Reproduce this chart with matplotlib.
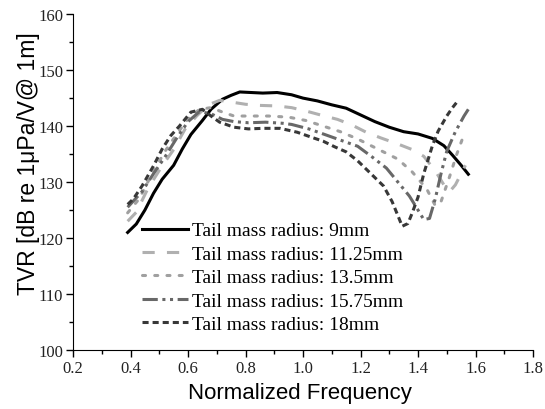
import matplotlib
matplotlib.use('Agg')
import matplotlib.pyplot as plt
from matplotlib.ticker import MultipleLocator

## curvas TVR para cada raio da massa de cauda
f_9 = [0.39, 0.42, 0.45, 0.48, 0.51, 0.55, 0.58, 0.61, 0.65, 0.68, 0.72, 0.75, 0.78, 0.82,
       0.86, 0.91, 0.96, 1.00, 1.05, 1.10, 1.15, 1.20, 1.25, 1.30, 1.35, 1.40, 1.45, 1.49,
       1.52, 1.55, 1.575]
v_9 = [121.0, 122.5, 125.0, 128.0, 130.5, 133.0, 135.9, 138.5, 141.0, 143.0, 144.8, 145.5,
       146.1, 146.0, 145.9, 146.0, 145.6, 145.0, 144.5, 143.8, 143.2, 142.0, 140.8, 139.8,
       139.0, 138.6, 137.8, 136.5, 134.8, 133.0, 131.4]

f_1125 = [0.39, 0.42, 0.46, 0.51, 0.55, 0.59, 0.63, 0.67, 0.71, 0.75, 0.80, 0.85, 0.91, 0.96,
          1.01, 1.06, 1.12, 1.17, 1.22, 1.27, 1.33, 1.38, 1.42, 1.46, 1.49, 1.51, 1.53, 1.55,
          1.565]
v_1125 = [123.0, 124.6, 128.8, 132.9, 135.8, 139.5, 141.8, 143.8, 144.6, 144.3, 143.9, 143.7,
          143.6, 143.3, 142.7, 142.0, 141.2, 140.2, 138.9, 137.9, 136.8, 135.8, 134.6, 132.0,
          129.5, 128.3, 129.5, 131.5, 133.0]

f_135 = [0.39, 0.43, 0.47, 0.52, 0.56, 0.60, 0.64, 0.68, 0.72, 0.76, 0.82, 0.88, 0.95, 1.01,
         1.07, 1.13, 1.19, 1.26, 1.33, 1.38, 1.43, 1.46, 1.48, 1.51, 1.535, 1.555]
v_135 = [124.5, 127.0, 131.0, 135.5, 138.5, 141.3, 143.0, 143.3, 142.5, 141.8, 141.8, 141.8,
         141.6, 141.0, 140.0, 139.0, 137.7, 135.9, 134.1, 131.8, 128.8, 125.8, 126.5, 131.0,
         135.0, 137.8]

f_1575 = [0.39, 0.44, 0.48, 0.52, 0.56, 0.60, 0.64, 0.68, 0.72, 0.76, 0.81, 0.87, 0.93, 0.96,
          1.02, 1.07, 1.13, 1.19, 1.24, 1.29, 1.33, 1.37, 1.40, 1.42, 1.44, 1.46, 1.48, 1.50,
          1.53, 1.56, 1.575]
v_1575 = [125.5, 128.3, 131.5, 134.5, 137.8, 140.8, 142.6, 142.2, 141.2, 140.8, 140.6, 140.7,
          140.5, 140.3, 139.5, 138.6, 137.5, 136.4, 134.5, 132.5, 130.0, 127.5, 125.0, 123.3,
          123.5, 127.0, 131.5, 135.5, 139.0, 141.8, 143.0]

f_18 = [0.39, 0.41, 0.44, 0.48, 0.51, 0.54, 0.57, 0.61, 0.65, 0.68, 0.71, 0.76, 0.81, 0.86,
        0.92, 0.98, 1.03, 1.07, 1.11, 1.15, 1.19, 1.22, 1.25, 1.28, 1.31, 1.33, 1.345, 1.365,
        1.38, 1.40, 1.42, 1.45, 1.47, 1.50, 1.52, 1.54]
v_18 = [126.0, 127.0, 129.3, 132.9, 135.9, 138.3, 140.0, 142.5, 143.0, 141.8, 140.7, 139.8,
        139.5, 139.6, 139.6, 138.9, 138.0, 137.3, 136.3, 135.4, 133.8, 132.3, 130.8, 129.3,
        126.5, 124.0, 122.1, 122.6, 124.5, 127.3, 131.5, 136.5, 139.1, 141.8, 143.3, 144.6]

rotulos = ['Tail mass radius: 9mm', 'Tail mass radius: 11.25mm', 'Tail mass radius: 13.5mm',
           'Tail mass radius: 15.75mm', 'Tail mass radius: 18mm']

fig = plt.figure(figsize=(5.45, 4.10), dpi=100)
ax = fig.add_axes([0.134, 0.144, 0.844, 0.819])

lw = 2.2
ax.plot(f_9, v_9, color='black', lw=lw, ls='-', label=rotulos[0])
ax.plot(f_1125, v_1125, color='#b0b0b0', lw=lw, ls=(0, (4, 4)), label=rotulos[1])
ax.plot(f_135, v_135, color='#a0a0a0', lw=lw, ls=(0, (1, 3)), label=rotulos[2],
        dash_capstyle='round')
ax.plot(f_1575, v_1575, color='#686868', lw=lw, ls=(0, (5, 1.5, 1, 1.5, 1, 1.5)),
        label=rotulos[3])
ax.plot(f_18, v_18, color='#383838', lw=lw, ls=(0, (2, 1.3)), label=rotulos[4])

ax.set_xlim(0.2, 1.8)
ax.set_ylim(100, 160)
ax.xaxis.set_major_locator(MultipleLocator(0.2))
ax.xaxis.set_minor_locator(MultipleLocator(0.1))
ax.yaxis.set_major_locator(MultipleLocator(10))
ax.yaxis.set_minor_locator(MultipleLocator(5))
ax.xaxis.set_major_formatter(plt.FuncFormatter(lambda x, p: '%.1f' % x))

for s in ['top', 'right']:
    ax.spines[s].set_visible(False)
ax.tick_params(which='major', direction='out', length=5, width=1, pad=2,
               labelsize=12, labelfontfamily='Liberation Serif', labelcolor='#222222')
ax.tick_params(which='minor', direction='out', length=3, width=1)

ax.set_xlabel('Normalized Frequency', fontsize=16, family='Liberation Sans')
ax.set_ylabel('TVR [dB re 1μPa/V@ 1m]', fontsize=16.5, family='Liberation Sans')
ax.xaxis.set_label_coords(0.493, -0.095)
ax.yaxis.set_label_coords(-0.072, 0.558)

leg = ax.legend(loc='lower left', bbox_to_anchor=(0.15, 0.05), frameon=False,
                prop={'family': 'Liberation Serif', 'size': 14}, handlelength=2.37,
                handletextpad=0.2, labelspacing=0.3, borderaxespad=0, borderpad=0)

fig.savefig('out.png', dpi=100)
